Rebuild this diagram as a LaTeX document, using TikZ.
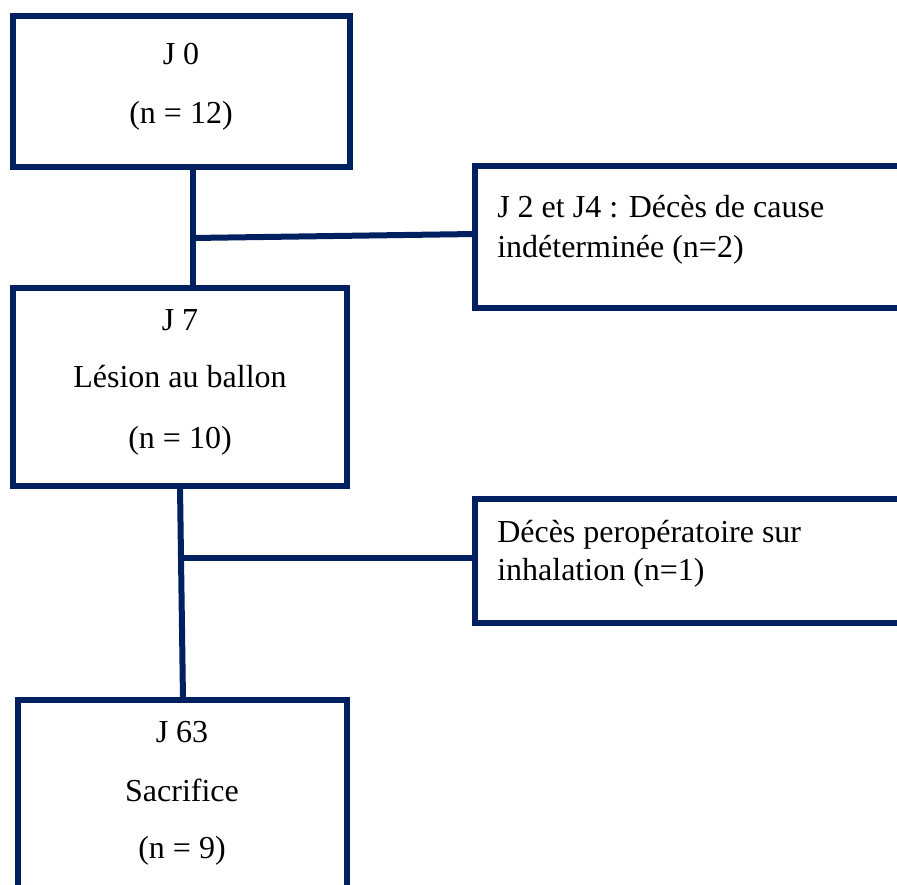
\documentclass[tikz,border=0pt]{standalone}
\usepackage{fontspec}
\setmainfont{Liberation Serif}
\definecolor{navy}{RGB}{0,32,96}
\begin{document}
\begin{tikzpicture}[x=0.75pt,y=-0.75pt,
  box/.style={draw=navy,line width=4.5pt,rectangle,inner sep=0pt,outer sep=0pt,anchor=north west},
  link/.style={draw=navy,line width=4.5pt},
  txt/.style={font=\fontsize{24pt}{28pt}\selectfont,inner sep=0pt,anchor=base},
  ltxt/.style={txt,anchor=base west}]
\useasboundingbox (0,0) rectangle (897,885);
\clip (0,0) rectangle (897,885);
\fill[white] (0,0) rectangle (897,885);
% boxes
\node[box,minimum width={337*0.75pt},minimum height={151*0.75pt}] (b1) at (13,16) {};
\node[box,minimum width={445*0.75pt},minimum height={142*0.75pt}] (b2) at (475,166) {};
\node[box,minimum width={334*0.75pt},minimum height={198*0.75pt}] (b3) at (13,288) {};
\node[box,minimum width={445*0.75pt},minimum height={124*0.75pt}] (b4) at (475,499) {};
\node[box,minimum width={329*0.75pt},minimum height={220*0.75pt}] (b5) at (18,700) {};
% texts
\node[txt] (t1a) at (181,64) {J 0};
\node[txt] (t1b) at (181,123) {(n = 12)};
\node[ltxt] (t2a) at (497,217) {J 2 et J4 : Décès de cause};
\node[ltxt] (t2b) at (497,257) {indéterminée (n=2)};
\node[txt] (t3a) at (180,330) {J 7};
\node[txt] (t3b) at (180,387) {Lésion au ballon};
\node[txt] (t3c) at (180,448) {(n = 10)};
\node[ltxt] (t4a) at (497,542) {Décès peropératoire sur};
\node[ltxt] (t4b) at (497,580) {inhalation (n=1)};
\node[txt] (t5a) at (182,742) {J 63};
\node[txt] (t5b) at (182,801) {Sacrifice};
\node[txt] (t5c) at (182,858) {(n = 9)};
% connectors
\coordinate (j1) at (193,238);
\coordinate (j1e) at (475,234);
\coordinate (v2a) at (180,486);
\coordinate (v2b) at (183,700);
\coordinate (j2) at (182,558);
\draw[link] (b1.south -| j1) -- (b3.north -| j1);
\draw[link] (j1) -- (b2.west |- j1e);
\draw[link] (b3.south -| v2a) -- (b5.north -| v2b);
\draw[link] (j2) -- (b4.west |- j2);
\end{tikzpicture}
\end{document}
